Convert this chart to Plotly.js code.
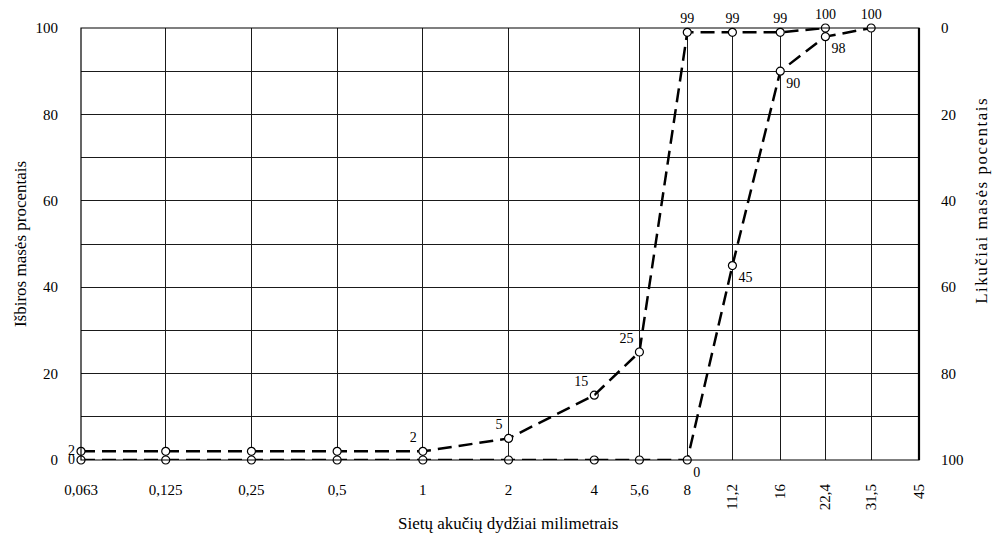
<!DOCTYPE html>
<html>
<head>
<meta charset="utf-8">
<script src="https://cdn.plot.ly/plotly-3.0.1.min.js"></script>
<style>html,body{margin:0;padding:0;background:#fff;}#chart{width:996px;height:539px;}</style>
</head>
<body>
<div id="chart"></div>
<script>
// ---- data ----
const sieveSizes  = [0.063, 0.125, 0.25, 0.5, 1, 2, 4, 5.6, 8, 11.2, 16, 22.4, 31.5, 45];
const sieveLabels = ['0,063','0,125','0,25','0,5','1','2','4','5,6','8','11,2','16','22,4','31,5','45'];
const passingSand   = [2, 2, 2, 2, 2, 5, 15, 25, 99, 99, 99, 100, null, null];
const passingCoarse = [0, 0, 0, 0, 0, 0, 0, 0, 0, 45, 90, 98, 100, null];
const sandLabelIdx   = [0, 4, 5, 6, 7, 8, 9, 10, 11];
const coarseLabelIdx = [0, 8, 9, 10, 11, 12];
const leftTicks  = [0, 20, 40, 60, 80, 100];
const rightTicks = [0, 20, 40, 60, 80, 100];
const xTitle = 'Sietų akučių dydžiai milimetrais';
const yLeftTitle = 'Išbiros masės procentais';
const yRightTitle = 'Likučiai masės pocentais';

// ---- styles ----
const FONT = 'Liberation Serif, DejaVu Serif, serif';
const sandTextPos = ['middle left','','','','top left','top left','top left','top left',
                     'top center','top center','top center','top center','',''];
const coarseTextPos = ['middle left','','','','','','','','bottom right','bottom right',
                       'bottom right','bottom right','top center',''];
const splitSize = 4;           // fine axis up to 4 mm, coarse axis from 4 mm
const splitDomain = 0.6125;

function labels(vals, idx) {
  return vals.map((v, i) => (idx.includes(i) && v !== null) ? String(v) : '');
}
function part(arr, fine) {
  const out = [];
  sieveSizes.forEach((s, i) => {
    if ((fine && s <= splitSize) || (!fine && s >= splitSize)) out.push(arr[i]);
  });
  return out;
}
const sizesFine = part(sieveSizes, true), sizesCoarse = part(sieveSizes, false);

const lineStyle = {color: '#000', width: 2.5, dash: '14px,7px'};
const markerStyle = {symbol: 'circle', size: 8, color: '#fff', line: {color: '#000', width: 1.2}};
const textFont = {family: FONT, size: 14, color: '#000'};

function mk(vals, idx, pos, fine) {
  const xs = fine ? sizesFine : sizesCoarse;
  const ys = part(vals, fine);
  let txt = part(labels(vals, idx), fine);
  let tp = part(pos, fine);
  if (!fine) { txt[0] = ''; }   // shared point at 4 mm labelled on fine part
  return {
    x: xs, y: ys, type: 'scatter', mode: 'lines+markers+text',
    xaxis: fine ? 'x' : 'x2', yaxis: 'y',
    line: lineStyle, marker: markerStyle,
    text: txt, textposition: tp.map(p => p || 'top center'), textfont: textFont,
    cliponaxis: false, showlegend: false, hoverinfo: 'x+y'
  };
}

const traces = [
  mk(passingCoarse, coarseLabelIdx, coarseTextPos, true),
  mk(passingCoarse, coarseLabelIdx, coarseTextPos, false),
  mk(passingSand, sandLabelIdx, sandTextPos, true),
  mk(passingSand, sandLabelIdx, sandTextPos, false),
  {x: [], y: [], xaxis: 'x3', yaxis: 'y', type: 'scatter', showlegend: false},
  {x: [], y: [], xaxis: 'x2', yaxis: 'y2', type: 'scatter', showlegend: false}
];

const gridCol = '#1a1a1a';
const tickFont = {family: FONT, size: 15, color: '#000'};
const titleFont = {family: FONT, size: 17, color: '#000'};
const fineTicks = sieveSizes.filter(s => s <= splitSize);
const coarseTicks = sieveSizes.filter(s => s > splitSize);
const lab = s => sieveLabels[sieveSizes.indexOf(s)];

const layout = {
  width: 996, height: 539,
  margin: {l: 81, r: 77, t: 28, b: 79},
  paper_bgcolor: '#fff', plot_bgcolor: '#fff',
  font: {family: FONT, size: 15, color: '#000'},
  xaxis: {
    type: 'log', domain: [0, splitDomain], anchor: 'y',
    range: [Math.log10(sieveSizes[0]), Math.log10(splitSize)],
    tickmode: 'array', tickvals: fineTicks, ticktext: fineTicks.map(lab),
    showgrid: true, gridcolor: gridCol, gridwidth: 1,
    zeroline: false, showline: false, ticks: '', ticklabelstandoff: 19,
    tickfont: tickFont, fixedrange: true
  },
  xaxis2: {
    type: 'log', domain: [splitDomain, 1], anchor: 'y',
    range: [Math.log10(splitSize), Math.log10(sieveSizes[sieveSizes.length - 1])],
    tickmode: 'array', tickvals: coarseTicks,
    ticktext: coarseTicks.map(s => s <= 8 ? lab(s) : ''),
    showgrid: true, gridcolor: gridCol, gridwidth: 1,
    zeroline: false, showline: false, ticks: '', ticklabelstandoff: 19,
    tickfont: tickFont, fixedrange: true
  },
  xaxis3: {
    type: 'log', overlaying: 'x2', anchor: 'y',
    range: [Math.log10(splitSize), Math.log10(sieveSizes[sieveSizes.length - 1])],
    tickmode: 'array', tickvals: coarseTicks.filter(s => s > 8),
    ticktext: coarseTicks.filter(s => s > 8).map(lab),
    tickangle: -90, showgrid: false, zeroline: false, showline: false,
    ticks: '', ticklabelstandoff: 20, tickfont: tickFont, fixedrange: true
  },
  yaxis: {
    range: [0, 100], tickmode: 'array', tickvals: leftTicks,
    showgrid: true, gridcolor: gridCol, gridwidth: 1,
    minor: {dtick: 10, showgrid: true, gridcolor: gridCol, gridwidth: 1, ticks: ''},
    zeroline: false, showline: false, ticks: '', ticklabelstandoff: 22,
    tickfont: tickFont, fixedrange: true,
    title: {text: yLeftTitle, standoff: 4, font: titleFont}
  },
  yaxis2: {
    range: [100, 0], overlaying: 'y', side: 'right', anchor: 'free', position: 1,
    tickmode: 'array', tickvals: rightTicks,
    showgrid: false, zeroline: false, showline: false, ticks: '', ticklabelstandoff: 21,
    tickfont: tickFont, fixedrange: true
  },
  shapes: [
    {type: 'rect', xref: 'paper', yref: 'paper', x0: 0, x1: 1, y0: 0, y1: 1,
     line: {color: '#000', width: 1.2}, fillcolor: 'rgba(0,0,0,0)', layer: 'above'},
    {type: 'line', xref: 'paper', yref: 'paper', x0: 1, x1: 1, y0: 0, y1: 1,
     line: {color: '#000', width: 2.2}, layer: 'above'}
  ],
  annotations: [
    {text: xTitle, xref: 'paper', yref: 'paper',
     x: 0.51, y: 0, yshift: -63, xanchor: 'center', yanchor: 'middle', showarrow: false,
     font: titleFont},
    {text: '<span style="letter-spacing:1.5px">' + yRightTitle + '</span>', xref: 'paper', yref: 'paper',
     x: 1, xshift: 63, y: 0.6, xanchor: 'center', yanchor: 'middle', textangle: -90, showarrow: false,
     font: titleFont}
  ]
};

Plotly.newPlot('chart', traces, layout, {displayModeBar: false, staticPlot: true});
</script>
</body>
</html>
